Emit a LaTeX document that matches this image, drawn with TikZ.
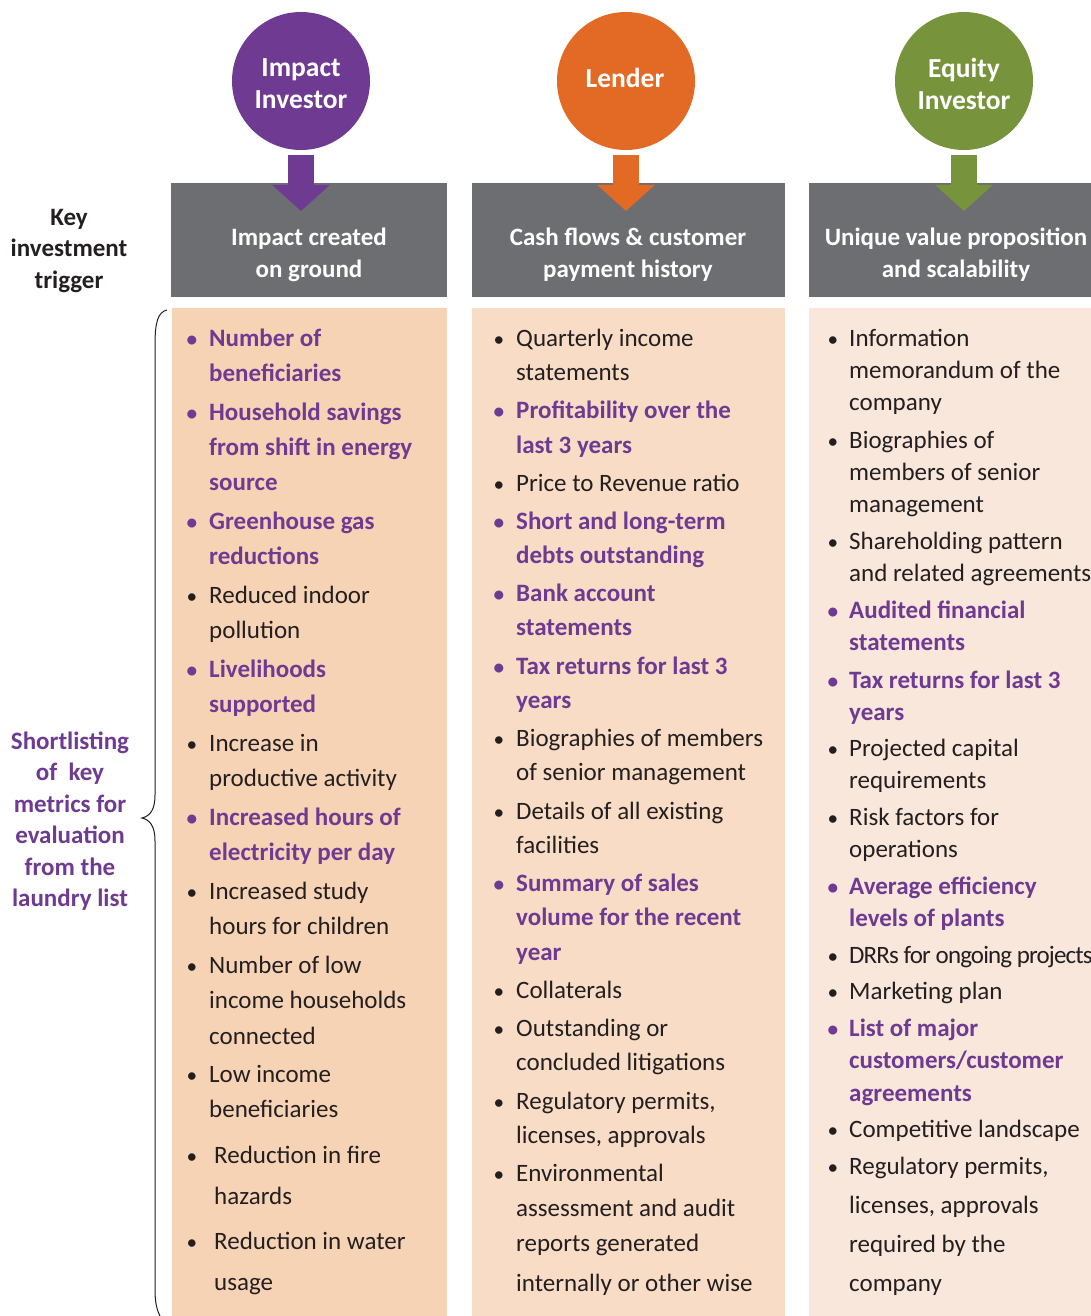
\documentclass[tikz,border=0pt]{standalone}
\usepackage{fontspec}
\setmainfont{Carlito}
\usetikzlibrary{arrows.meta}
\definecolor{ppl}{HTML}{6E3A92}
\definecolor{org}{HTML}{E26A24}
\definecolor{grn}{HTML}{77933C}
\definecolor{gry}{HTML}{6D6E71}
\definecolor{fillA}{HTML}{F7D3B6}
\definecolor{fillB}{HTML}{F8DCC6}
\definecolor{fillC}{HTML}{FAE7DB}
\definecolor{ink}{HTML}{231F20}
\newcounter{tn}
\newcommand\li[4]{\stepcounter{tn}\node[#1,anchor=mid west] (t\arabic{tn}) at (#2,#3) {#4};}
\newcommand\bu[3]{\stepcounter{tn}\node[#1,anchor=mid] (b\arabic{tn}) at (#2,#3) {\scalebox{0.85}{\textbullet}};}
\tikzset{
  pt/.style={inner sep=0pt,text=ppl,yshift=-6pt,font=\fontsize{25}{30}\selectfont\bfseries},
  bt/.style={inner sep=0pt,text=ink,yshift=-6pt,font=\fontsize{25}{30}\selectfont},
  circ/.style={circle,minimum size=138pt,inner sep=0pt},
  ctxt/.style={inner sep=0pt,text=white,align=center,
    font=\fontsize{27.5}{32}\selectfont\bfseries},
  hbox/.style={fill=gry,inner sep=0pt,minimum height=114pt},
  htxt/.style={inner sep=0pt,text=white,align=center,
    font=\fontsize{25}{32}\selectfont\bfseries},
  dn/.style={line width=26pt,-{Triangle[width=56pt,length=26pt]},shorten <=5pt,shorten >=-28pt},
  side/.style={align=center,inner sep=0pt,font=\fontsize{25}{31.5}\selectfont\bfseries}
}
\begin{document}
\begin{tikzpicture}[x=1pt,y=-1pt]
\useasboundingbox (0,0) rectangle (1091,1316);
% column backgrounds
\fill[fillA] (172,308) rectangle (447,1316);
\fill[fillB] (472,308) rectangle (785,1316);
\fill[fillC] (809,308) rectangle (1091,1316);
% header boxes
\node[hbox,minimum width=276pt] (h1) at (309,240) {};
\node[hbox,minimum width=313pt] (h2) at (628.5,240) {};
\node[hbox,minimum width=282pt] (h3) at (950,240) {};
\node[htxt] (h1t) at (309,255) {Impact created\\on ground};
\node[htxt] (h2t) at (628,255) {Cash flows \& customer\\payment history};
\node[htxt] (h3t) at (956,255) {Unique value proposition\\and scalability};
% circles
\node[circ,fill=ppl] (c1) at (301,81) {};
\node[circ,fill=org] (c2) at (626,81) {};
\node[circ,fill=grn] (c3) at (964,81) {};
\node[ctxt] (c1t) at (301,84) {Impact\\Investor};
\node[ctxt] (c2t) at (625,78) {Lender};
\node[ctxt] (c3t) at (964,84) {Equity\\Investor};
% arrows
\coordinate (a1) at (301,183);
\coordinate (a2) at (626,183);
\coordinate (a3) at (964,183);
\draw[dn,ppl] (c1.south) -- (a1);
\draw[dn,org] (c2.south) -- (a2);
\draw[dn,grn] (c3.south) -- (a3);
% side labels
\node[side,text=ink] (k) at (69,251) {Key\\investment\\trigger};
\node[side,text=ppl] (s) at (70,821) {Shortlisting\\of~~key\\metrics for\\evaluation\\from the\\laundry list};
% brace
\draw[ink,line width=1pt] (167,310) .. controls (158,312) and (155,322) .. (155,345)
  -- (155,795) .. controls (155,810) and (150,816) .. (142,818)
  .. controls (150,820) and (155,826) .. (155,841)
  -- (155,1290) .. controls (155,1303) and (157,1310) .. (160,1316);
% ---------- left column ----------
\bu{pt}{192}{338}\li{pt}{209}{338}{Number of}\li{pt}{209}{373}{beneficiaries}
\bu{pt}{192}{412}\li{pt}{209}{412}{Household savings}\li{pt}{209}{447}{from shift in energy}\li{pt}{209}{482}{source}
\bu{pt}{192}{521}\li{pt}{209}{521}{Greenhouse gas}\li{pt}{209}{556}{reductions}
\bu{bt}{192}{595}\li{bt}{209}{595}{Reduced indoor}\li{bt}{209}{630}{pollution}
\bu{pt}{192}{669}\li{pt}{209}{669}{Livelihoods}\li{pt}{209}{704}{supported}
\bu{bt}{192}{743}\li{bt}{209}{743}{Increase in}\li{bt}{209}{778}{productive activity}
\bu{pt}{192}{817}\li{pt}{209}{817}{Increased hours of}\li{pt}{209}{852}{electricity per day}
\bu{bt}{192}{891}\li{bt}{209}{891}{Increased study}\li{bt}{209}{926}{hours for children}
\bu{bt}{192}{965}\li{bt}{209}{965}{Number of low}\li{bt}{209}{1000}{income households}\li{bt}{209}{1036}{connected}
\bu{bt}{192}{1074}\li{bt}{209}{1074}{Low income}\li{bt}{209}{1109}{beneficiaries}
\bu{bt}{192}{1155}\li{bt}{214}{1155}{Reduction in fire}\li{bt}{214}{1196}{hazards}
\bu{bt}{192}{1241}\li{bt}{214}{1241}{Reduction in water}\li{bt}{214}{1282}{usage}
% ---------- middle column ----------
\bu{bt}{499}{338}\li{bt}{516}{338}{Quarterly income}\li{bt}{516}{372}{statements}
\bu{pt}{499}{410}\li{pt}{516}{410}{Profitability over the}\li{pt}{516}{445}{last 3 years}
\bu{bt}{499}{483}\li{bt}{516}{483}{Price to Revenue ratio}
\bu{pt}{499}{521}\li{pt}{516}{521}{Short and long-term}\li{pt}{516}{555}{debts outstanding}
\bu{pt}{499}{593}\li{pt}{516}{593}{Bank account}\li{pt}{516}{627}{statements}
\bu{pt}{499}{666}\li{pt}{516}{666}{Tax returns for last 3}\li{pt}{516}{700}{years}
\bu{bt}{499}{738}\li{bt}{516}{738}{Biographies of members}\li{bt}{516}{772}{of senior management}
\bu{bt}{499}{811}\li{bt}{516}{811}{Details of all existing}\li{bt}{516}{845}{facilities}
\bu{pt}{499}{883}\li{pt}{516}{883}{Summary of sales}\li{pt}{516}{917}{volume for the recent}\li{pt}{516}{952}{year}
\bu{bt}{499}{990}\li{bt}{516}{990}{Collaterals}
\bu{bt}{499}{1028}\li{bt}{516}{1028}{Outstanding or}\li{bt}{516}{1062}{concluded litigations}
\bu{bt}{499}{1101}\li{bt}{516}{1101}{Regulatory permits,}\li{bt}{516}{1135}{licenses, approvals}
\bu{bt}{499}{1173}\li{bt}{516}{1173}{Environmental}\li{bt}{516}{1208}{assessment and audit}\li{bt}{516}{1243}{reports generated}\li{bt}{516}{1283}{internally or other wise}
% ---------- right column ----------
\bu{bt}{833}{338}\li{bt}{849}{338}{Information}\li{bt}{849}{370}{memorandum of the}\li{bt}{849}{402}{company}
\bu{bt}{833}{440}\li{bt}{849}{440}{Biographies of}\li{bt}{849}{472}{members of senior}\li{bt}{849}{504}{management}
\bu{bt}{833}{541}\li{bt}{849}{541}{Shareholding pattern}\li{bt}{849}{573}{and related agreements}
\bu{pt}{833}{610}\li{pt}{849}{610}{Audited financial}\li{pt}{849}{642}{statements}
\bu{pt}{833}{680}\li{pt}{849}{680}{Tax returns for last 3}\li{pt}{849}{712}{years}
\bu{bt}{833}{748}\li{bt}{849}{748}{Projected capital}\li{bt}{849}{780}{requirements}
\bu{bt}{833}{817}\li{bt}{849}{817}{Risk factors for}\li{bt}{849}{849}{operations}
\bu{pt}{833}{886}\li{pt}{849}{886}{Average efficiency}\li{pt}{849}{918}{levels of plants}
\bu{bt}{833}{955}\li{bt}{849}{955}{\addfontfeature{LetterSpace=-3.5}DRRs for ongoing projects}
\bu{bt}{833}{991}\li{bt}{849}{991}{Marketing plan}
\bu{pt}{833}{1028}\li{pt}{849}{1028}{List of major}\li{pt}{849}{1060}{customers/customer}\li{pt}{849}{1093}{agreements}
\bu{bt}{833}{1129}\li{bt}{849}{1129}{Competitive landscape}
\bu{bt}{833}{1166}\li{bt}{849}{1166}{Regulatory permits,}\li{bt}{849}{1205}{licenses, approvals}\li{bt}{849}{1244}{required by the}\li{bt}{849}{1283}{company}
\end{tikzpicture}
\end{document}
